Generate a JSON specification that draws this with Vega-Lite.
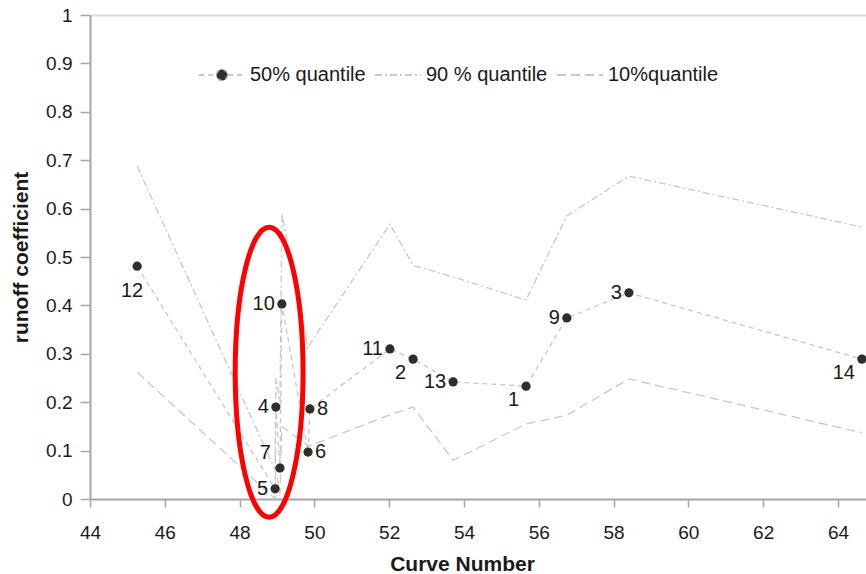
{
  "$schema": "https://vega.github.io/schema/vega-lite/v6.json",
  "width": 776,
  "height": 484,
  "autosize": {"type": "none"},
  "padding": {"left": 90, "top": 15, "right": 0, "bottom": 75},
  "background": "white",
  "config": {"view": {"stroke": null}, "font": "Liberation Sans"},
  "datasets": {
    "pts": [
      {"id": 12, "cn": 45.26, "q50": 0.481, "q90": 0.688, "q10": 0.262},
      {"id": 5, "cn": 48.95, "q50": 0.021, "q90": 0.06, "q10": 0.0},
      {"id": 4, "cn": 48.97, "q50": 0.19, "q90": 0.25, "q10": 0.06},
      {"id": 7, "cn": 49.08, "q50": 0.064, "q90": 0.2, "q10": 0.01},
      {"id": 10, "cn": 49.13, "q50": 0.403, "q90": 0.59, "q10": 0.15},
      {"id": 6, "cn": 49.83, "q50": 0.097, "q90": 0.31, "q10": 0.11},
      {"id": 8, "cn": 49.88, "q50": 0.186, "q90": 0.32, "q10": 0.11},
      {"id": 11, "cn": 52.02, "q50": 0.31, "q90": 0.568, "q10": 0.174},
      {"id": 2, "cn": 52.64, "q50": 0.289, "q90": 0.483, "q10": 0.19},
      {"id": 13, "cn": 53.71, "q50": 0.242, "q90": 0.459, "q10": 0.08},
      {"id": 1, "cn": 55.66, "q50": 0.233, "q90": 0.411, "q10": 0.155},
      {"id": 9, "cn": 56.75, "q50": 0.374, "q90": 0.585, "q10": 0.173},
      {"id": 3, "cn": 58.41, "q50": 0.426, "q90": 0.667, "q10": 0.248},
      {"id": 14, "cn": 64.64, "q50": 0.289, "q90": 0.562, "q10": 0.137}
    ],
    "ann": [{"cn": 48.79, "rc": 0.262}]
  },
  "layer": [
    {
      "data": {"name": "pts"},
      "transform": [{"fold": ["q50", "q90", "q10"], "as": ["series", "value"]}],
      "mark": {"type": "line", "strokeWidth": 1.3, "color": "#c8c8c8"},
      "encoding": {
        "x": {
          "field": "cn", "type": "quantitative",
          "scale": {"domain": [44, 64.75], "nice": false, "zero": false},
          "axis": {
            "values": [44, 46, 48, 50, 52, 54, 56, 58, 60, 62, 64],
            "title": "Curve Number", "titleFontSize": 21, "titleFontWeight": "bold", "titleColor": "#1a1a1a",
            "titleX": 372, "titleAlign": "center",
            "labelFontSize": 19, "labelColor": "#1a1a1a", "labelFlush": false,
            "domainColor": "#a6a6a6", "domainWidth": 2, "tickColor": "#a6a6a6", "tickWidth": 1.5,
            "tickSize": 8, "labelPadding": 16, "titlePadding": 11, "grid": false
          }
        },
        "y": {
          "field": "value", "type": "quantitative",
          "scale": {"domain": [0, 1], "nice": false},
          "axis": {
            "values": [0, 0.1, 0.2, 0.3, 0.4, 0.5, 0.6, 0.7, 0.8, 0.9, 1],
            "format": ".1~f",
            "title": "runoff coefficient", "titleFontSize": 21, "titleFontWeight": "bold", "titleColor": "#1a1a1a",
            "labelFontSize": 19, "labelColor": "#1a1a1a", "labelFlush": false,
            "domainColor": "#a6a6a6", "domainWidth": 2, "tickColor": "#a6a6a6", "tickWidth": 1.5,
            "tickSize": 10, "labelPadding": 8, "titlePadding": 14,
            "grid": true, "gridColor": "#d9d9d9", "gridWidth": 2,
            "gridOpacity": {"condition": {"test": "datum.value >= 1", "value": 1}, "value": 0}
          }
        },
        "strokeDash": {
          "field": "series", "type": "nominal",
          "scale": {"domain": ["q50", "q90", "q10"], "range": [[5, 4], [7, 3, 2, 3], [9, 5]]},
          "legend": {
            "orient": "none", "legendX": 108, "legendY": 36, "direction": "horizontal", "title": null,
            "symbolType": "stroke", "symbolSize": 2116, "symbolStrokeColor": "#b5b5b5", "symbolStrokeWidth": 1.5,
            "labelFontSize": 20, "labelColor": "#1a1a1a", "columnPadding": 6, "labelOffset": 4,
            "labelExpr": "datum.label == 'q50' ? '50% quantile' : datum.label == 'q90' ? '90 % quantile' : '10%quantile'",
            "encode": {
              "symbols": {
                "update": {
                  "shape": {"signal": "datum.value == 'q50' ? 'M-1,0H-0.26M0.26,0H1M0.24,0A0.24,0.24 0 1,1 -0.24,0A0.24,0.24 0 1,1 0.24,0Z' : 'stroke'"},
                  "fill": {"signal": "datum.value == 'q50' ? '#2e2e2e' : 'transparent'"},
                  "stroke": {"value": "#b5b5b5"},
                  "strokeWidth": {"value": 1.5},
                  "strokeDash": {"signal": "datum.value == 'q50' ? [5, 4] : datum.value == 'q90' ? [7, 3, 2, 3] : [9, 5]"},
                  "opacity": {"value": 1}
                }
              }
            }
          }
        }
      }
    },
    {
      "data": {"name": "pts"},
      "mark": {"type": "circle", "size": 85, "color": "#2e2e2e", "opacity": 1},
      "encoding": {
        "x": {"field": "cn", "type": "quantitative"},
        "y": {"field": "q50", "type": "quantitative"}
      }
    },
    {
      "data": {"name": "pts"},
      "transform": [{"filter": {"field": "id", "oneOf": [10, 4, 5, 11, 13, 9, 3]}}],
      "mark": {"type": "text", "align": "right", "baseline": "middle", "dx": -7, "fontSize": 20, "color": "#1a1a1a"},
      "encoding": {
        "x": {"field": "cn", "type": "quantitative"},
        "y": {"field": "q50", "type": "quantitative"},
        "text": {"field": "id", "type": "nominal"}
      }
    },
    {
      "data": {"name": "pts"},
      "transform": [{"filter": {"field": "id", "oneOf": [8, 6]}}],
      "mark": {"type": "text", "align": "left", "baseline": "middle", "dx": 7, "fontSize": 20, "color": "#1a1a1a"},
      "encoding": {
        "x": {"field": "cn", "type": "quantitative"},
        "y": {"field": "q50", "type": "quantitative"},
        "text": {"field": "id", "type": "nominal"}
      }
    },
    {
      "data": {"name": "pts"},
      "transform": [{"filter": {"field": "id", "oneOf": [2, 1, 14]}}],
      "mark": {"type": "text", "align": "right", "baseline": "middle", "dx": -7, "dy": 14, "fontSize": 20, "color": "#1a1a1a"},
      "encoding": {
        "x": {"field": "cn", "type": "quantitative"},
        "y": {"field": "q50", "type": "quantitative"},
        "text": {"field": "id", "type": "nominal"}
      }
    },
    {
      "data": {"name": "pts"},
      "transform": [{"filter": {"field": "id", "oneOf": [12]}}],
      "mark": {"type": "text", "align": "center", "baseline": "middle", "dx": -5, "dy": 25, "fontSize": 20, "color": "#1a1a1a"},
      "encoding": {
        "x": {"field": "cn", "type": "quantitative"},
        "y": {"field": "q50", "type": "quantitative"},
        "text": {"field": "id", "type": "nominal"}
      }
    },
    {
      "data": {"name": "pts"},
      "transform": [{"filter": {"field": "id", "oneOf": [7]}}],
      "mark": {"type": "text", "align": "right", "baseline": "middle", "dx": -9, "dy": -15, "fontSize": 20, "color": "#1a1a1a"},
      "encoding": {
        "x": {"field": "cn", "type": "quantitative"},
        "y": {"field": "q50", "type": "quantitative"},
        "text": {"field": "id", "type": "nominal"}
      }
    },
    {
      "data": {"name": "ann"},
      "mark": {
        "type": "point", "filled": false, "stroke": "#ff0000", "strokeWidth": 5, "opacity": 1,
        "shape": "M0,-1A0.234,1 0 1,1 0,1A0.234,1 0 1,1 0,-1Z", "size": 84100
      },
      "encoding": {
        "x": {"field": "cn", "type": "quantitative"},
        "y": {"field": "rc", "type": "quantitative"}
      }
    }
  ]
}
